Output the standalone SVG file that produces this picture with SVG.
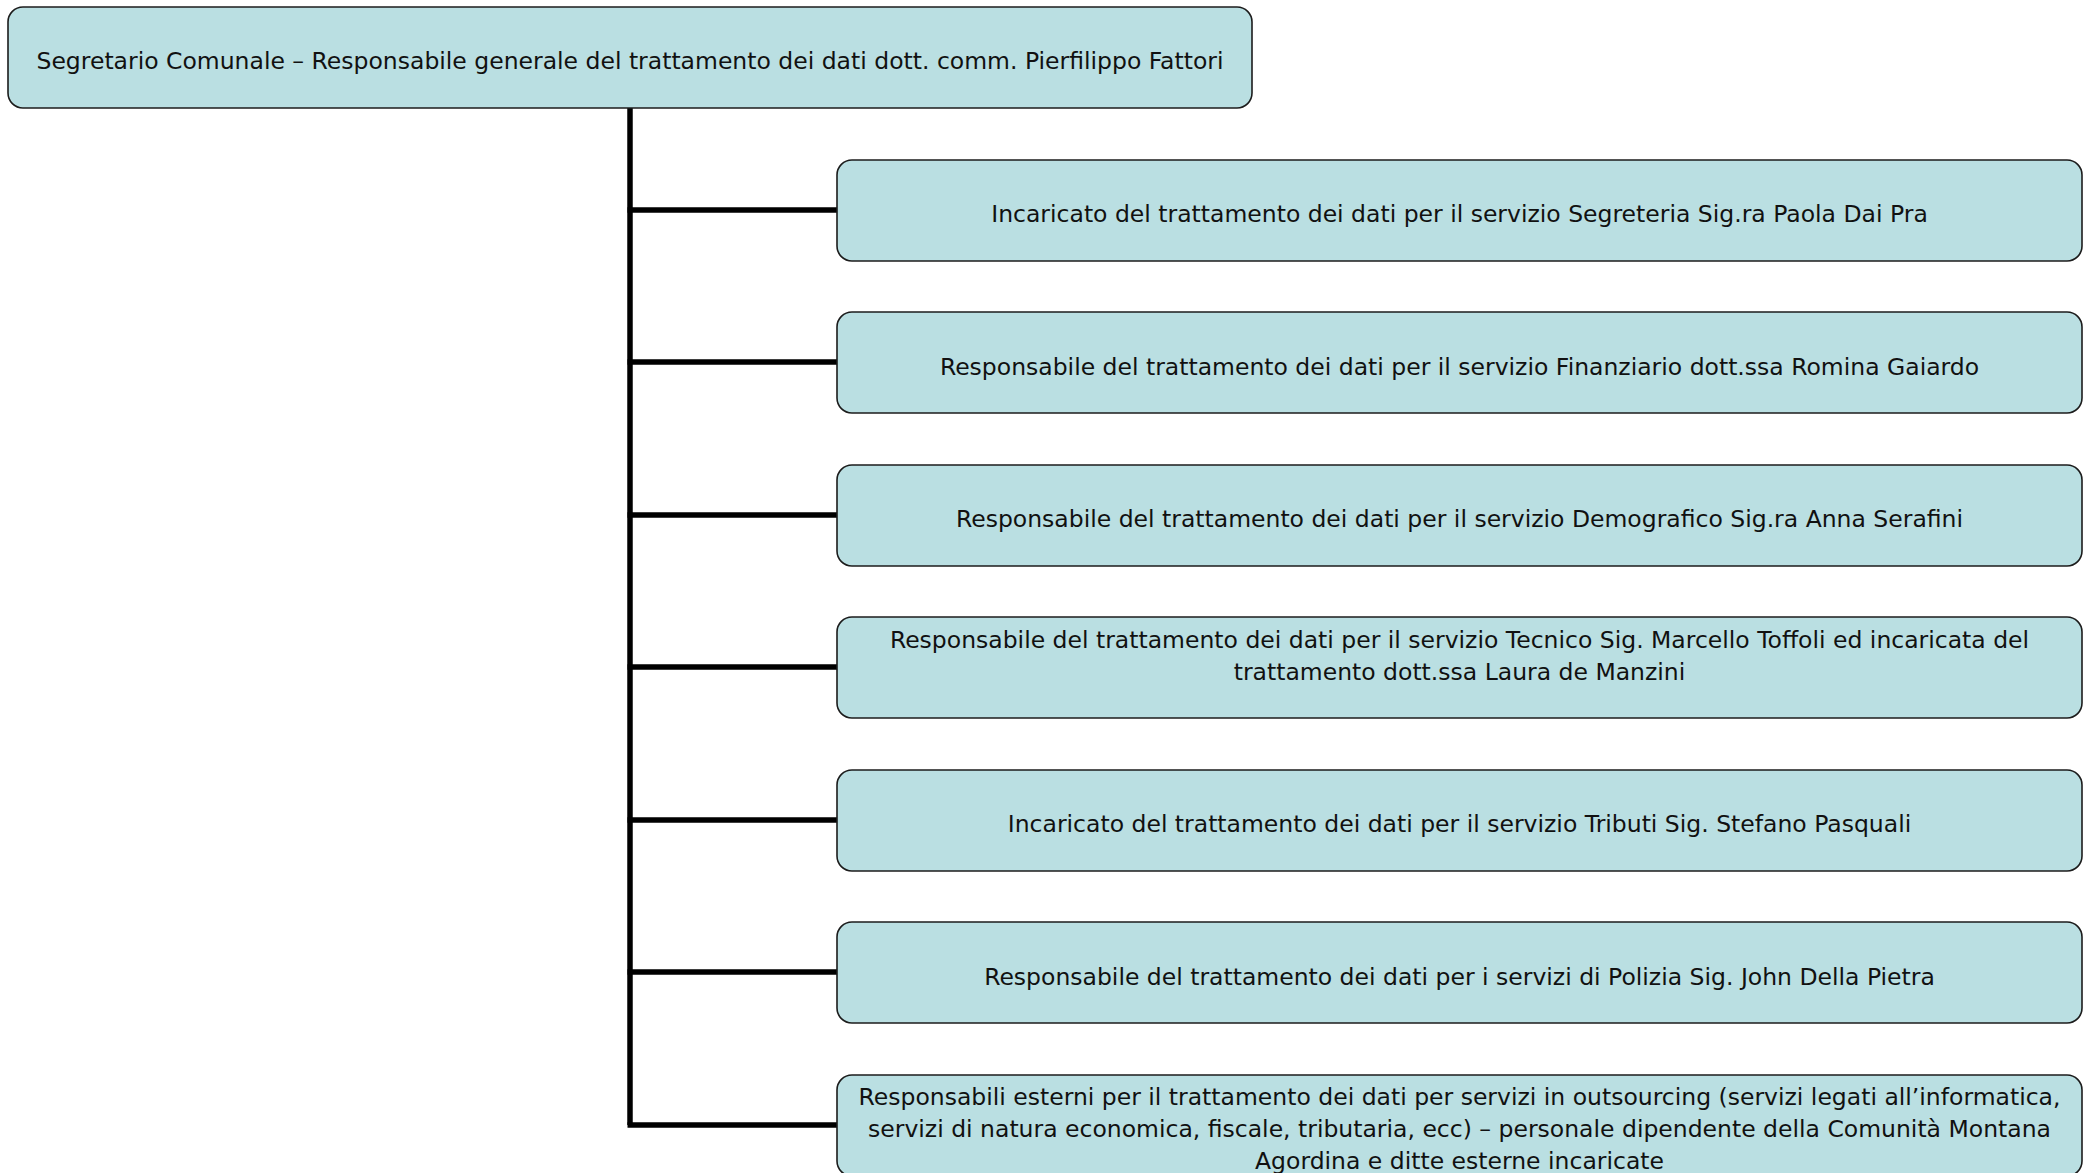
<svg xmlns="http://www.w3.org/2000/svg" width="2091" height="1173" viewBox="0 0 2091 1173">
<style>
.box{fill:#BADFE2;stroke:#1c1c1c;stroke-width:1.6}
.t{font-family:"DejaVu Sans",sans-serif;font-size:23.5px;fill:#111;text-anchor:middle}
.c{stroke:#000;stroke-width:5.5;fill:none}
</style>
<rect width="2091" height="1173" fill="#fff"/>
<g id="connectors">
<path class="c" d="M630 108 V1125"/>
<path class="c" d="M627.5 210 H837 M627.5 362 H837 M627.5 515 H837 M627.5 667 H837 M627.5 820 H837 M627.5 972 H837 M627.5 1125 H837"/>
</g>
<g id="n0"><rect class="box" x="8" y="7" width="1244" height="101" rx="15"/><text class="t" x="630" y="69">Segretario Comunale – Responsabile generale del trattamento dei dati dott. comm. Pierfilippo Fattori</text></g>
<g id="n1"><rect class="box" x="837" y="160" width="1245" height="101" rx="15"/><text class="t" x="1459.5" y="222">Incaricato del trattamento dei dati per il servizio Segreteria Sig.ra Paola Dai Pra</text></g>
<g id="n2"><rect class="box" x="837" y="312" width="1245" height="101" rx="15"/><text class="t" x="1459.5" y="375">Responsabile del trattamento dei dati per il servizio Finanziario dott.ssa Romina Gaiardo</text></g>
<g id="n3"><rect class="box" x="837" y="465" width="1245" height="101" rx="15"/><text class="t" x="1459.5" y="527">Responsabile del trattamento dei dati per il servizio Demografico Sig.ra Anna Serafini</text></g>
<g id="n4"><rect class="box" x="837" y="617" width="1245" height="101" rx="15"/><text class="t" x="1459.5" y="648">Responsabile del trattamento dei dati per il servizio Tecnico Sig. Marcello Toffoli ed incaricata del</text><text class="t" x="1459.5" y="680">trattamento dott.ssa Laura de Manzini</text></g>
<g id="n5"><rect class="box" x="837" y="770" width="1245" height="101" rx="15"/><text class="t" x="1459.5" y="832">Incaricato del trattamento dei dati per il servizio Tributi Sig. Stefano Pasquali</text></g>
<g id="n6"><rect class="box" x="837" y="922" width="1245" height="101" rx="15"/><text class="t" x="1459.5" y="985">Responsabile del trattamento dei dati per i servizi di Polizia Sig. John Della Pietra</text></g>
<g id="n7"><rect class="box" x="837" y="1075" width="1245" height="101" rx="15"/><text class="t" x="1459.5" y="1105">Responsabili esterni per il trattamento dei dati per servizi in outsourcing (servizi legati all’informatica,</text><text class="t" x="1459.5" y="1137">servizi di natura economica, fiscale, tributaria, ecc) – personale dipendente della Comunità Montana</text><text class="t" x="1459.5" y="1169">Agordina e ditte esterne incaricate</text></g>
</svg>
